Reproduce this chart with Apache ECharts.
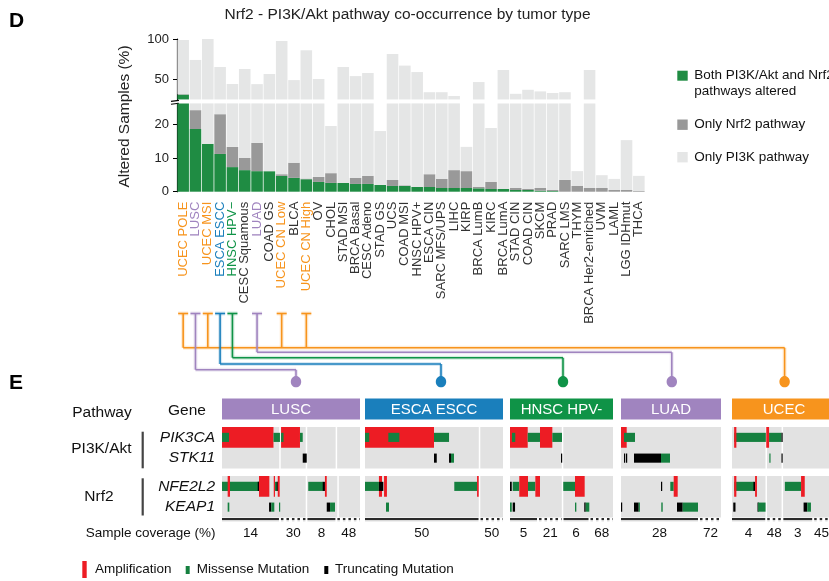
<!DOCTYPE html>
<html>
<head>
<meta charset="utf-8">
<script src="https://cdn.jsdelivr.net/npm/echarts@6.0.0/dist/echarts.min.js"></script>
<style>
  html, body { margin: 0; padding: 0; background: #fff; }
  #chart { width: 829px; height: 581px; }
</style>
</head>
<body>
<div id="chart"></div>
<script>
// ---- panel D: co-occurrence bars ----
const tumorTypes = ['UCEC POLE', 'LUSC', 'UCEC MSI', 'ESCA ESCC', 'HNSC HPV−', 'CESC Squamous', 'LUAD', 'COAD GS',
  'UCEC CN Low', 'BLCA', 'UCEC CN High', 'OV', 'CHOL', 'STAD MSI', 'BRCA Basal', 'CESC Adeno', 'STAD GS', 'UCS',
  'COAD MSI', 'HNSC HPV+', 'ESCA CIN', 'SARC MFS/UPS', 'LIHC', 'KIRP', 'BRCA LumB', 'KIRC', 'BRCA LumA', 'STAD CIN',
  'COAD CIN', 'SKCM', 'PRAD', 'SARC LMS', 'THYM', 'BRCA Her2-enriched', 'UVM', 'LAML', 'LGG IDHmut', 'THCA'];

const bothAltered = [31, 18.6, 14.2, 11.2, 7.3, 6.4, 6.1, 6.1, 4.7, 4.1, 3.7, 2.9, 2.6, 2.6, 2.3, 2.3, 2.0, 1.7,
  1.7, 1.4, 1.4, 1.1, 1.1, 1.1, 1.0, 0.8, 0.8, 0.5, 0.5, 0.3, 0.2, 0, 0, 0, 0, 0, 0, 0];
const onlyNrf2 = [0.6, 5.6, 0, 11.8, 6.0, 3.6, 8.4, 0, 0.5, 4.5, 0.2, 1.5, 2.9, 0, 1.8, 2.4, 0, 1.8,
  0.2, 0, 3.8, 2.7, 5.3, 5.0, 0.4, 2.1, 0, 0.6, 0.3, 0.8, 0.3, 3.5, 1.7, 1.1, 1.1, 0.5, 0.5, 0.2];
const onlyPI3K = [67.2, 49.8, 85.8, 42.3, 30.9, 52.8, 29.5, 50.5, 92.3, 40.4, 82.1, 46.0, 14.0, 62.7, 49.9, 53.1, 16.0, 77.9,
  65.1, 57.6, 28.8, 30.2, 22.9, 7.2, 45.2, 16.0, 60.7, 30.9, 36.2, 33.9, 32.5, 30.5, 4.4, 60.4, 3.8, 3.3, 14.8, 4.5];

const upperTicks = [50, 100];
const lowerTicks = [0, 10, 20];

// ---- panel E: oncoprint ----
const genesPI3K = ['PIK3CA', 'STK11'];
const genesNrf2 = ['NFE2L2', 'KEAP1'];
const kinds = ['amp', 'mis', 'trunc'];
const panelNames = ['LUSC', 'ESCA ESCC', 'HNSC HPV-', 'LUAD', 'UCEC'];

// [gene, start, end, kind] on a 0-100 sample axis, in drawing order
const luscAlterations = [
  ['PIK3CA', 0, 37.3, 'amp'], ['PIK3CA', 0, 5.1, 'mis'], ['PIK3CA', 37.3, 42, 'mis'], ['PIK3CA', 42.8, 56.5, 'amp'],
  ['PIK3CA', 42.8, 44.6, 'mis'], ['PIK3CA', 56.5, 58.5, 'mis'],
  ['STK11', 58.5, 61.4, 'trunc'],
  ['NFE2L2', 0, 26.8, 'mis'], ['NFE2L2', 4.1, 5.8, 'amp'], ['NFE2L2', 25.9, 26.8, 'trunc'], ['NFE2L2', 26.8, 34.3, 'amp'],
  ['NFE2L2', 37.5, 38.4, 'amp'], ['NFE2L2', 38.4, 40.4, 'mis'], ['NFE2L2', 39.6, 40.4, 'trunc'], ['NFE2L2', 40.4, 41.8, 'amp'],
  ['NFE2L2', 62.5, 73.4, 'mis'], ['NFE2L2', 73, 74.6, 'trunc'], ['NFE2L2', 74.6, 75.9, 'amp'],
  ['KEAP1', 4.1, 5.3, 'mis'], ['KEAP1', 34.1, 35.7, 'trunc'], ['KEAP1', 35.7, 37.9, 'mis'], ['KEAP1', 41.3, 42, 'mis'],
  ['KEAP1', 75.9, 78.3, 'trunc'], ['KEAP1', 78.3, 81.9, 'mis']
];
const escaAlterations = [
  ['PIK3CA', 0, 50, 'amp'], ['PIK3CA', 0, 3.1, 'mis'], ['PIK3CA', 16.9, 24.9, 'mis'], ['PIK3CA', 50, 60.9, 'mis'],
  ['STK11', 50, 52, 'trunc'], ['STK11', 60.9, 62.3, 'trunc'], ['STK11', 62.3, 64.5, 'mis'],
  ['NFE2L2', 0, 10.1, 'mis'], ['NFE2L2', 10.1, 12.3, 'amp'], ['NFE2L2', 10.1, 13.3, 'trunc'], ['NFE2L2', 13.8, 15.9, 'amp'],
  ['NFE2L2', 64.7, 81.4, 'mis'], ['NFE2L2', 81.2, 82.4, 'amp'],
  ['KEAP1', 15.2, 17.4, 'mis']
];
const hnscAlterations = [
  ['PIK3CA', 0, 17.2, 'amp'], ['PIK3CA', 1.9, 5.1, 'mis'], ['PIK3CA', 17.2, 29.1, 'mis'], ['PIK3CA', 29.1, 41.1, 'amp'],
  ['PIK3CA', 41.1, 50.5, 'mis'],
  ['STK11', 49.5, 50.5, 'trunc'],
  ['NFE2L2', 0, 1.7, 'trunc'], ['NFE2L2', 2.6, 9, 'mis'], ['NFE2L2', 9, 17.5, 'amp'], ['NFE2L2', 17.5, 24.6, 'mis'],
  ['NFE2L2', 24.6, 29.1, 'amp'], ['NFE2L2', 51.7, 63.1, 'mis'], ['NFE2L2', 63.1, 72.5, 'amp'],
  ['KEAP1', 0, 1.7, 'mis'], ['KEAP1', 2.6, 4.9, 'trunc'], ['KEAP1', 63.1, 64.4, 'mis'], ['KEAP1', 72.1, 73.5, 'trunc'],
  ['KEAP1', 73.5, 77, 'mis']
];
const luadAlterations = [
  ['PIK3CA', 0, 5.7, 'amp'], ['PIK3CA', 3, 14, 'mis'],
  ['STK11', 3, 3.7, 'trunc'], ['STK11', 5, 6, 'trunc'], ['STK11', 13, 40, 'trunc'], ['STK11', 40, 49, 'mis'],
  ['NFE2L2', 40, 41, 'trunc'], ['NFE2L2', 49.3, 52.7, 'mis'], ['NFE2L2', 52.7, 56.7, 'amp'],
  ['KEAP1', 0, 1, 'trunc'], ['KEAP1', 13, 17.7, 'trunc'], ['KEAP1', 17.7, 18.7, 'mis'], ['KEAP1', 40.3, 41.7, 'mis'],
  ['KEAP1', 56, 61.7, 'trunc'], ['KEAP1', 61.7, 77, 'mis']
];
const ucecAlterations = [
  ['PIK3CA', 2.2, 34.9, 'mis'], ['PIK3CA', 2.2, 4.5, 'amp'], ['PIK3CA', 38.2, 51, 'mis'], ['PIK3CA', 35.3, 38.2, 'amp'],
  ['PIK3CA', 51, 51.9, 'trunc'],
  ['STK11', 38.5, 39.4, 'mis'], ['STK11', 51, 51.9, 'trunc'],
  ['NFE2L2', 2.2, 22.8, 'mis'], ['NFE2L2', 2.2, 4.5, 'amp'], ['NFE2L2', 22.1, 23.8, 'trunc'], ['NFE2L2', 23.8, 25.7, 'amp'],
  ['NFE2L2', 54.5, 71.2, 'mis'], ['NFE2L2', 71.2, 75, 'amp'],
  ['KEAP1', 1.3, 3.6, 'trunc'], ['KEAP1', 26.3, 27.2, 'trunc'], ['KEAP1', 26.9, 34.6, 'mis'], ['KEAP1', 73.8, 77.6, 'trunc'],
  ['KEAP1', 77.6, 81.4, 'mis']
];

// sample groups shown as grey blocks [start, end]
const luscBlocksPI3K = [[0, 42], [42, 61.2], [61.2, 82.9], [82.9, 100]];
const luscBlocksNrf2 = [[0, 61.2], [61.2, 84.1], [84.1, 100]];
const escaBlocks = [[0, 83], [83, 100]];
const hnscBlocks = [[0, 51], [51, 100]];
const luadBlocks = [[0, 100]];
const ucecBlocks = [[0, 35.3], [35.3, 51.9], [51.9, 100]];

// sample coverage [start, end, percent, drawnToScale]
const luscCoverage = [[0, 42, 14, 1], [42, 61.2, 30, 0], [61.2, 82.9, 8, 1], [82.9, 100, 48, 0]];
const escaCoverage = [[0, 83, 50, 1], [83, 100, 50, 0]];
const hnscCoverage = [[0, 27.2, 5, 1], [27.2, 51, 21, 0], [51, 77.2, 6, 1], [77.2, 100, 68, 0]];
const luadCoverage = [[0, 78, 28, 1], [78, 100, 72, 0]];
const ucecCoverage = [[0, 35.3, 4, 1], [35.3, 51.9, 48, 0], [51.9, 83.7, 3, 1], [83.7, 100, 45, 0]];

// ---- styles / layout ----
const FONT = '"Liberation Sans", Arial, Helvetica, sans-serif';
const ORANGE = '#f7941d', PURPLE = '#a084bf', BLUE = '#1a7fbc', GREENT = '#0f9347';
const BAR_GREEN = '#1f8c43', BAR_DARK = '#999999', BAR_LIGHT = '#e5e6e6';
const ALT_COLORS = ['#ed1c24', '#15803f', '#000000'];
const BLOCK_BG = '#e2e2e2';
const labelColor = {
  'UCEC POLE': ORANGE, 'UCEC MSI': ORANGE, 'UCEC CN Low': ORANGE, 'UCEC CN High': ORANGE,
  'LUSC': PURPLE, 'LUAD': PURPLE, 'ESCA ESCC': BLUE, 'HNSC HPV−': GREENT
};
const panels = [
  { left: 222, width: 138, color: PURPLE, alt: luscAlterations, bgA: luscBlocksPI3K, bgB: luscBlocksNrf2, cov: luscCoverage },
  { left: 365, width: 138, color: BLUE, alt: escaAlterations, bgA: escaBlocks, bgB: escaBlocks, cov: escaCoverage },
  { left: 510, width: 103, color: GREENT, alt: hnscAlterations, bgA: hnscBlocks, bgB: hnscBlocks, cov: hnscCoverage },
  { left: 621, width: 100, color: PURPLE, alt: luadAlterations, bgA: luadBlocks, bgB: luadBlocks, cov: luadCoverage },
  { left: 732, width: 104, color: ORANGE, alt: ucecAlterations, bgA: ucecBlocks, bgB: ucecBlocks, cov: ucecCoverage }
];
const TOP_A = 427, TOP_B = 476, BLOCK_H = 41.5;

const chart = echarts.init(document.getElementById('chart'), null, { renderer: 'canvas' });

function renderAlt(params, api) {
  const row = api.value(0);
  const a = api.coord([api.value(1), row]);
  const b = api.coord([api.value(2), row]);
  const kind = api.value(3);
  const band = api.size([0, 1])[1];
  const h = kind === 0 ? band : band * 0.44;
  return {
    type: 'rect',
    shape: { x: a[0], y: a[1] - h / 2, width: Math.max(b[0] - a[0], 1.2), height: h },
    style: { fill: ALT_COLORS[kind] }
  };
}

function renderBlock(params, api) {
  const cs = params.coordSys;
  const s = api.value(0), e = api.value(1);
  let x0 = api.coord([s, 0])[0], x1 = api.coord([e, 0])[0];
  if (s > 0) x0 += 0.75;
  if (e < 100) x1 -= 0.75;
  return { type: 'rect', shape: { x: x0, y: cs.y, width: x1 - x0, height: cs.height }, style: { fill: BLOCK_BG } };
}

function renderCoverage(params, api) {
  const cs = params.coordSys;
  const s = api.value(0), e = api.value(1);
  let x0 = api.coord([s, 0])[0], x1 = api.coord([e, 0])[0];
  if (s > 0) x0 += 1;
  if (e < 100) x1 -= 1;
  const y = cs.y + cs.height + 1.5;
  const full = api.value(3) === 1;
  return {
    type: 'group',
    children: [
      { type: 'line', shape: { x1: x0, y1: y, x2: x1, y2: y },
        style: { stroke: '#2a2a2a', lineWidth: 2, lineDash: full ? null : [2.5, 3] } },
      { type: 'line', shape: { x1: x0, y1: y + 1.8, x2: x1, y2: y + 1.8 },
        style: { stroke: '#c8c8c8', lineWidth: 1, lineDash: full ? null : [2.5, 3] } },
      { type: 'text', style: { text: String(api.value(2)), x: (x0 + x1) / 2, y: cs.y + cs.height + 15.5,
        align: 'center', verticalAlign: 'middle', fontSize: 13.5, fontFamily: FONT, fill: '#111' } }
    ]
  };
}

const grid = [
  { left: 177, top: 39, width: 468, height: 60.45 },
  { left: 177, top: 103.4, width: 468, height: 88.3 }
];
const xAxis = [
  { type: 'category', gridIndex: 0, data: tumorTypes, axisLine: { show: false }, axisTick: { show: false }, axisLabel: { show: false } },
  { type: 'category', gridIndex: 1, data: tumorTypes.map(n => ({ value: n, textStyle: { color: labelColor[n] || '#333' } })),
    axisLine: { show: false }, axisTick: { show: false },
    axisLabel: { rotate: 90, interval: 0, fontSize: 13, fontFamily: FONT, margin: 10 } }
];
const yAxisStyle = {
  axisLine: { show: true, lineStyle: { color: '#000', width: 1.2 } },
  splitLine: { show: false }
};
const yAxis = [
  Object.assign({ type: 'value', gridIndex: 0, min: 25, max: 100, interval: 25,
    axisTick: { show: true, length: 4, lineStyle: { color: '#000' }, customValues: upperTicks },
    axisLabel: { fontSize: 13, fontFamily: FONT, color: '#222', margin: 8, customValues: upperTicks } }, yAxisStyle),
  Object.assign({ type: 'value', gridIndex: 1, min: 0, max: 26.2, interval: 10,
    axisTick: { show: true, length: 4, lineStyle: { color: '#000' }, customValues: lowerTicks },
    axisLabel: { fontSize: 13, fontFamily: FONT, color: '#222', margin: 8, customValues: lowerTicks } }, yAxisStyle)
];

const series = [];
[0, 1].forEach(g => {
  [[bothAltered, BAR_GREEN], [onlyNrf2, BAR_DARK], [onlyPI3K, BAR_LIGHT]].forEach(([d, c]) => {
    series.push({ type: 'bar', xAxisIndex: g, yAxisIndex: g, stack: 'alt' + g, data: d, barCategoryGap: '6%',
      itemStyle: { color: c }, clip: true, silent: true });
  });
});

panels.forEach((p, i) => {
  [[genesPI3K, TOP_A, p.bgA], [genesNrf2, TOP_B, p.bgB]].forEach(([genes, top, blocks], k) => {
    const gi = grid.length;
    grid.push({ left: p.left, top: top, width: p.width, height: BLOCK_H });
    xAxis.push({ type: 'value', gridIndex: gi, min: 0, max: 100, show: false });
    yAxis.push({ type: 'category', gridIndex: gi, data: genes, inverse: true,
      axisLine: { show: false }, axisTick: { show: false }, splitLine: { show: false },
      axisLabel: { show: i === 0, interval: 0, hideOverlap: false, fontStyle: 'italic', fontSize: 15.5,
        fontFamily: FONT, color: '#111', margin: 7, padding: [9, 0, 0, 0] } });
    series.push({ type: 'custom', xAxisIndex: gi, yAxisIndex: gi, data: blocks, encode: { x: [0, 1] },
      renderItem: renderBlock, z: 1, silent: true });
    const rows = p.alt.filter(d => genes.includes(d[0]))
      .map(d => [genes.indexOf(d[0]), d[1], d[2], kinds.indexOf(d[3])]);
    series.push({ type: 'custom', xAxisIndex: gi, yAxisIndex: gi, data: rows, encode: { x: [1, 2], y: 0 },
      renderItem: renderAlt, z: 3, silent: true });
    if (k === 1) {
      series.push({ type: 'custom', xAxisIndex: gi, yAxisIndex: gi, data: p.cov, encode: { x: [0, 1] },
        renderItem: renderCoverage, z: 3, clip: false, silent: true });
    }
  });
});

chart.setOption({ animation: false, grid, xAxis, yAxis, series });

// ---- decorations ----
const txt = (text, x, y, o) => ({ type: 'text', x, y, silent: true,
  style: Object.assign({ text, fontFamily: FONT, fontSize: 13.5, fill: '#111', align: 'left', verticalAlign: 'middle' }, o || {}) });
const rect = (x, y, w, h, fill) => ({ type: 'rect', shape: { x, y, width: w, height: h }, style: { fill }, silent: true });
const line = (x1, y1, x2, y2, stroke, w, extra) => ({ type: 'line', shape: { x1, y1, x2, y2 }, silent: true,
  style: Object.assign({ stroke, lineWidth: w }, extra || {}) });

const graphic = [
  txt('D', 9, 21, { fontSize: 21, fontWeight: 'bold', fill: '#000' }),
  txt('E', 9, 383, { fontSize: 21, fontWeight: 'bold', fill: '#000' }),
  txt('Nrf2 - PI3K/Akt pathway co-occurrence by tumor type', 407.5, 15, { fontSize: 15.5, align: 'center', fill: '#222' }),
  { type: 'text', x: 125, y: 116.5, rotation: Math.PI / 2, silent: true,
    style: { text: 'Altered Samples (%)', fontFamily: FONT, fontSize: 15.5, fill: '#222', align: 'center', verticalAlign: 'middle' } },
  line(171, 101.4, 179, 100.4, '#000', 1.1),
  line(171, 104.2, 179, 103.2, '#000', 1.1),
  rect(677.3, 70.7, 10.4, 10, BAR_GREEN),
  txt('Both PI3K/Akt and Nrf2', 694.3, 75),
  txt('pathways altered', 694.3, 91.5),
  rect(677.3, 119.5, 10.4, 10.4, BAR_DARK),
  txt('Only Nrf2 pathway', 694.3, 124.5),
  rect(677.3, 152, 10.4, 10.4, BAR_LIGHT),
  txt('Only PI3K pathway', 694.3, 157),
  txt('Pathway', 102, 412.7, { fontSize: 15.5, align: 'center' }),
  txt('Gene', 187, 410.5, { fontSize: 15.5, align: 'center' }),
  txt('PI3K/Akt', 101.4, 448.3, { fontSize: 15.5, align: 'center' }),
  txt('Nrf2', 99, 496.7, { fontSize: 15.5, align: 'center' }),
  line(142.7, 431.7, 142.7, 468.3, '#444', 2.2),
  line(142.7, 478.3, 142.7, 515.5, '#444', 2.2),
  txt('Sample coverage (%)', 85.7, 533.3),
  rect(82.3, 561, 4.4, 17, ALT_COLORS[0]),
  txt('Amplification', 95, 569.5),
  rect(185.7, 566, 4, 8, ALT_COLORS[1]),
  txt('Missense Mutation', 196.7, 569.5),
  rect(324.3, 566, 4, 8, ALT_COLORS[2]),
  txt('Truncating Mutation', 335, 569.5)
];

panels.forEach((p, i) => {
  graphic.push(rect(p.left, 398.5, p.width, 21, p.color));
  graphic.push(txt(panelNames[i], p.left + p.width / 2, 409.5, { fontSize: 15, fill: '#fff', align: 'center' }));
});

// connectors from tumour labels to the oncoprint panels
const connectors = [
  { cats: ['UCEC POLE', 'UCEC MSI', 'UCEC CN Low', 'UCEC CN High'], panel: 4, y: 347.7, dotX: 784.6, color: ORANGE },
  { cats: ['LUAD'], panel: 3, y: 352.3, dotX: 671.8, color: PURPLE },
  { cats: ['HNSC HPV−'], panel: 2, y: 357.7, dotX: 563, color: GREENT },
  { cats: ['ESCA ESCC'], panel: 1, y: 364, dotX: 441, color: BLUE },
  { cats: ['LUSC'], panel: 0, y: 369.7, dotX: 296, color: PURPLE }
];
const capY = 313.5, dotY = 381.7;
connectors.forEach(c => {
  const xs = c.cats.map(n => chart.convertToPixel({ xAxisIndex: 1 }, n));
  const segs = [];
  xs.forEach(x => {
    segs.push([x - 5, capY, x + 5, capY]);
    segs.push([x, capY, x, c.y]);
  });
  segs.push([Math.min(...xs, c.dotX), c.y, Math.max(...xs, c.dotX), c.y]);
  segs.push([c.dotX, c.y, c.dotX, dotY]);
  segs.forEach(s => graphic.push(line(s[0], s[1], s[2], s[3], c.color, 4, { opacity: 0.18 })));
  segs.forEach(s => graphic.push(line(s[0], s[1], s[2], s[3], c.color, 1.6)));
  graphic.push({ type: 'ellipse', shape: { cx: c.dotX, cy: dotY, rx: 5.2, ry: 5.6 }, style: { fill: c.color }, silent: true });
});

chart.setOption({ graphic });
</script>
</body>
</html>
